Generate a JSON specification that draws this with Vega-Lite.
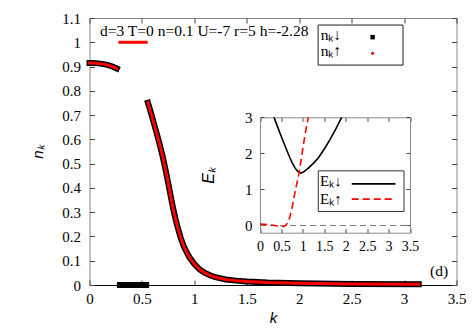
{
  "$schema": "https://vega.github.io/schema/vega-lite/v6.json",
  "width": 367,
  "height": 267,
  "autosize": {"type": "none"},
  "padding": {"left": 89.5, "top": 18, "right": 16.5, "bottom": 46},
  "background": "white",
  "config": {
    "view": {"stroke": "#888", "strokeWidth": 1},
    "axis": {
      "labelFont": "Liberation Serif", "labelFontSize": 15, "labelColor": "black", "labelOverlap": false, "labelFlush": false,
      "titleFont": "Liberation Sans", "titleFontStyle": "italic", "titleFontWeight": "normal",
      "titleFontSize": 15, "titleColor": "black", "grid": false,
      "tickColor": "#444", "domainColor": "#888"
    },
    "text": {"font": "Liberation Serif", "fontSize": 15}
  },
  "datasets": {
    "nk": [
      {"k": 0, "s": "A", "d": 0.915, "u": 0.915},
      {"k": 0.04, "s": "A", "d": 0.915, "u": 0.915},
      {"k": 0.08, "s": "A", "d": 0.913, "u": 0.913},
      {"k": 0.12, "s": "A", "d": 0.911, "u": 0.911},
      {"k": 0.16, "s": "A", "d": 0.908, "u": 0.908},
      {"k": 0.2, "s": "A", "d": 0.903, "u": 0.903},
      {"k": 0.23, "s": "A", "d": 0.898, "u": 0.898},
      {"k": 0.26, "s": "A", "d": 0.892, "u": 0.892},
      {"k": 0.29, "s": "B", "d": 0, "u": 1},
      {"k": 0.35, "s": "B", "d": 0, "u": 1},
      {"k": 0.42, "s": "B", "d": 0, "u": 1},
      {"k": 0.49, "s": "B", "d": 0, "u": 1},
      {"k": 0.54, "s": "B", "d": 0, "u": 1},
      {"k": 0.557, "s": "C", "d": 0.751, "u": 0.751},
      {"k": 0.58, "s": "C", "d": 0.718, "u": 0.718},
      {"k": 0.6, "s": "C", "d": 0.688, "u": 0.688},
      {"k": 0.62, "s": "C", "d": 0.657, "u": 0.657},
      {"k": 0.64, "s": "C", "d": 0.626, "u": 0.626},
      {"k": 0.66, "s": "C", "d": 0.594, "u": 0.594},
      {"k": 0.68, "s": "C", "d": 0.561, "u": 0.561},
      {"k": 0.7, "s": "C", "d": 0.525, "u": 0.525},
      {"k": 0.72, "s": "C", "d": 0.486, "u": 0.486},
      {"k": 0.74, "s": "C", "d": 0.443, "u": 0.443},
      {"k": 0.76, "s": "C", "d": 0.399, "u": 0.399},
      {"k": 0.78, "s": "C", "d": 0.354, "u": 0.354},
      {"k": 0.8, "s": "C", "d": 0.311, "u": 0.311},
      {"k": 0.82, "s": "C", "d": 0.273, "u": 0.273},
      {"k": 0.84, "s": "C", "d": 0.239, "u": 0.239},
      {"k": 0.87, "s": "C", "d": 0.194, "u": 0.194},
      {"k": 0.9, "s": "C", "d": 0.158, "u": 0.158},
      {"k": 0.95, "s": "C", "d": 0.116, "u": 0.116},
      {"k": 1.0, "s": "C", "d": 0.086, "u": 0.086},
      {"k": 1.05, "s": "C", "d": 0.064, "u": 0.064},
      {"k": 1.1, "s": "C", "d": 0.05, "u": 0.05},
      {"k": 1.15, "s": "C", "d": 0.04, "u": 0.04},
      {"k": 1.2, "s": "C", "d": 0.032, "u": 0.032},
      {"k": 1.3, "s": "C", "d": 0.023, "u": 0.023},
      {"k": 1.4, "s": "C", "d": 0.018, "u": 0.018},
      {"k": 1.5, "s": "C", "d": 0.014, "u": 0.014},
      {"k": 1.7, "s": "C", "d": 0.01, "u": 0.01},
      {"k": 2.0, "s": "C", "d": 0.007, "u": 0.007},
      {"k": 2.5, "s": "C", "d": 0.004, "u": 0.004},
      {"k": 3.14, "s": "C", "d": 0.003, "u": 0.003}
    ],
    "edn": [
      {"k": 0.327, "e": 3.0}, {"k": 0.4, "e": 2.77}, {"k": 0.467, "e": 2.56},
      {"k": 0.55, "e": 2.31}, {"k": 0.62, "e": 2.1}, {"k": 0.7, "e": 1.87},
      {"k": 0.754, "e": 1.73}, {"k": 0.82, "e": 1.59}, {"k": 0.88, "e": 1.5},
      {"k": 0.95, "e": 1.45}, {"k": 1.02, "e": 1.49}, {"k": 1.127, "e": 1.59},
      {"k": 1.25, "e": 1.73}, {"k": 1.36, "e": 1.87}, {"k": 1.5, "e": 2.12},
      {"k": 1.633, "e": 2.38}, {"k": 1.77, "e": 2.68}, {"k": 1.905, "e": 3.0}
    ],
    "eup": [
      {"k": 0, "e": 0.04}, {"k": 0.19, "e": 0.02}, {"k": 0.35, "e": 0.0},
      {"k": 0.5, "e": -0.03}, {"k": 0.56, "e": -0.03}, {"k": 0.62, "e": 0.03},
      {"k": 0.66, "e": 0.11}, {"k": 0.7, "e": 0.25}, {"k": 0.754, "e": 0.53},
      {"k": 0.79, "e": 0.76}, {"k": 0.83, "e": 1.0}, {"k": 0.87, "e": 1.22},
      {"k": 0.91, "e": 1.45}, {"k": 0.95, "e": 1.75}, {"k": 0.99, "e": 2.06},
      {"k": 1.05, "e": 2.51}, {"k": 1.127, "e": 3.0}
    ]
  },
  "layer": [
    {
      "layer": [
        {
          "data": {"name": "nk"},
          "mark": {"type": "line", "color": "black", "strokeWidth": 6, "strokeCap": "square"},
          "encoding": {
            "x": {"field": "k", "type": "quantitative",
              "scale": {"domain": [0, 3.5], "nice": false, "zero": false},
              "axis": {"orient": "bottom", "values": [0, 0.5, 1, 1.5, 2, 2.5, 3, 3.5], "labelExpr": "datum.value",
                "tickSize": -5, "labelPadding": 11, "domainColor": "black", "title": "k", "titlePadding": 4}},
            "y": {"field": "d", "type": "quantitative",
              "scale": {"domain": [0, 1.1], "nice": false},
              "axis": {"orient": "left", "values": [0, 0.1, 0.2, 0.3, 0.4, 0.5, 0.6, 0.7, 0.8, 0.9, 1, 1.1], "labelExpr": "datum.value",
                "tickSize": -5, "labelPadding": 14, "domain": false, "title": "nₖ", "titlePadding": 16}},
            "detail": {"field": "s"}
          }
        },
        {
          "data": {"name": "nk"},
          "mark": {"type": "line", "color": "#ff0000", "strokeWidth": 3, "strokeCap": "square"},
          "encoding": {
            "x": {"field": "k", "type": "quantitative",
              "axis": {"orient": "top", "values": [0, 0.5, 1, 1.5, 2, 2.5, 3, 3.5], "labels": false, "domain": false, "tickSize": -5, "title": null}},
            "y": {"field": "u", "type": "quantitative",
              "axis": {"orient": "right", "values": [0, 0.1, 0.2, 0.3, 0.4, 0.5, 0.6, 0.7, 0.8, 0.9, 1, 1.1], "labels": false, "domain": false, "tickSize": -5, "title": null}},
            "detail": {"field": "s"}
          }
        },
        {
          "data": {"values": [
            {"x": 0.1, "y": 1.026, "t": "d=3 T=0 n=0.1 U=-7 r=5 h=-2.28"},
            {"x": 2.205, "y": 1.009, "t": "nₖ↓"},
            {"x": 2.205, "y": 0.945, "t": "nₖ↑"}
          ]},
          "mark": {"type": "text", "align": "left", "baseline": "alphabetic", "color": "black", "fontSize": 15.5},
          "encoding": {
            "x": {"field": "x", "type": "quantitative", "axis": null},
            "y": {"field": "y", "type": "quantitative", "axis": null},
            "text": {"field": "t"}
          }
        },
        {
          "data": {"values": [{"x": 3.42, "y": 0.058, "t": "(d)"}]},
          "mark": {"type": "text", "align": "right", "baseline": "middle", "color": "black", "fontSize": 15.5},
          "encoding": {
            "x": {"field": "x", "type": "quantitative", "axis": null},
            "y": {"field": "y", "type": "quantitative", "axis": null},
            "text": {"field": "t"}
          }
        },
        {
          "data": {"values": [{"x": 2.18, "x2": 2.99, "y": 0.906, "y2": 1.071}]},
          "mark": {"type": "rect", "fill": null, "fillOpacity": 0, "stroke": "#222", "strokeWidth": 1},
          "encoding": {
            "x": {"field": "x", "type": "quantitative", "axis": null},
            "x2": {"field": "x2"},
            "y": {"field": "y", "type": "quantitative", "axis": null},
            "y2": {"field": "y2"}
          }
        },
        {
          "data": {"values": [{"x": 2.7, "y": 1.021}]},
          "mark": {"type": "point", "shape": "square", "filled": true, "color": "black", "size": 20, "opacity": 1},
          "encoding": {
            "x": {"field": "x", "type": "quantitative", "axis": null},
            "y": {"field": "y", "type": "quantitative", "axis": null}
          }
        },
        {
          "data": {"values": [{"x": 2.7, "y": 0.955}]},
          "mark": {"type": "point", "shape": "circle", "filled": true, "color": "#ff0000", "size": 9, "opacity": 1},
          "encoding": {
            "x": {"field": "x", "type": "quantitative", "axis": null},
            "y": {"field": "y", "type": "quantitative", "axis": null}
          }
        }
      ],
      "resolve": {"axis": {"x": "independent", "y": "independent"}}
    },
    {
      "layer": [
        {
          "data": {"values": [{"x": 0, "x2": 3.5, "y": 0}]},
          "mark": {"type": "rule", "color": "#777", "strokeWidth": 1, "strokeDash": [6, 4]},
          "encoding": {
            "x": {"field": "x", "type": "quantitative",
              "scale": {"domain": [0, 3.5], "range": [170.5, 320.5], "nice": false, "zero": false},
              "axis": {"orient": "bottom", "offset": -52.3, "values": [0, 0.5, 1, 1.5, 2, 2.5, 3, 3.5], "labelExpr": "datum.value",
                "tickSize": -4, "labelPadding": 11, "labelFontSize": 14, "title": null}},
            "x2": {"field": "x2"},
            "y": {"field": "y", "type": "quantitative",
              "scale": {"domain": [-0.2, 3], "range": [214.7, 99.3], "nice": false, "zero": false},
              "axis": {"orient": "left", "offset": -170.5, "values": [0, 1, 2, 3], "labelExpr": "datum.value",
                "tickSize": -4, "labelPadding": 12, "title": "Eₖ", "titleFontSize": 16, "titlePadding": 28}}
          }
        },
        {
          "data": {"name": "edn"},
          "mark": {"type": "line", "color": "black", "strokeWidth": 1.6},
          "encoding": {
            "x": {"field": "k", "type": "quantitative",
              "axis": {"orient": "top", "offset": -99.3, "values": [0, 0.5, 1, 1.5, 2, 2.5, 3, 3.5], "labels": false, "tickSize": -4, "title": null}},
            "y": {"field": "e", "type": "quantitative",
              "axis": {"orient": "right", "offset": -46.5, "values": [0, 1, 2, 3], "labels": false, "tickSize": -4, "title": null}}
          }
        },
        {
          "data": {"name": "eup"},
          "mark": {"type": "line", "color": "#ff0000", "strokeWidth": 1.6, "strokeDash": [7, 4]},
          "encoding": {
            "x": {"field": "k", "type": "quantitative", "axis": null},
            "y": {"field": "e", "type": "quantitative", "axis": null}
          }
        },
        {
          "data": {"values": [{"x": 1.36, "x2": 3.36, "y": 0.388, "y2": 1.515}]},
          "mark": {"type": "rect", "fill": null, "fillOpacity": 0, "stroke": "#333", "strokeWidth": 1},
          "encoding": {
            "x": {"field": "x", "type": "quantitative", "axis": null},
            "x2": {"field": "x2"},
            "y": {"field": "y", "type": "quantitative", "axis": null},
            "y2": {"field": "y2"}
          }
        },
        {
          "data": {"values": [
            {"x": 1.4, "y": 1.1, "t": "Eₖ↓"},
            {"x": 1.4, "y": 0.59, "t": "Eₖ↑"}
          ]},
          "mark": {"type": "text", "align": "left", "baseline": "alphabetic", "color": "black", "fontSize": 15},
          "encoding": {
            "x": {"field": "x", "type": "quantitative", "axis": null},
            "y": {"field": "y", "type": "quantitative", "axis": null},
            "text": {"field": "t"}
          }
        },
        {
          "data": {"values": [{"x": 2.14, "x2": 3.16, "y": 1.155}]},
          "mark": {"type": "rule", "color": "black", "strokeWidth": 1.8},
          "encoding": {
            "x": {"field": "x", "type": "quantitative", "axis": null},
            "x2": {"field": "x2"},
            "y": {"field": "y", "type": "quantitative", "axis": null}
          }
        },
        {
          "data": {"values": [{"x": 2.14, "x2": 3.16, "y": 0.73}]},
          "mark": {"type": "rule", "color": "#ff0000", "strokeWidth": 1.8, "strokeDash": [7, 4]},
          "encoding": {
            "x": {"field": "x", "type": "quantitative", "axis": null},
            "x2": {"field": "x2"},
            "y": {"field": "y", "type": "quantitative", "axis": null}
          }
        }
      ],
      "resolve": {"axis": {"x": "independent", "y": "independent"}}
    }
  ],
  "resolve": {"scale": {"x": "independent", "y": "independent"}}
}
